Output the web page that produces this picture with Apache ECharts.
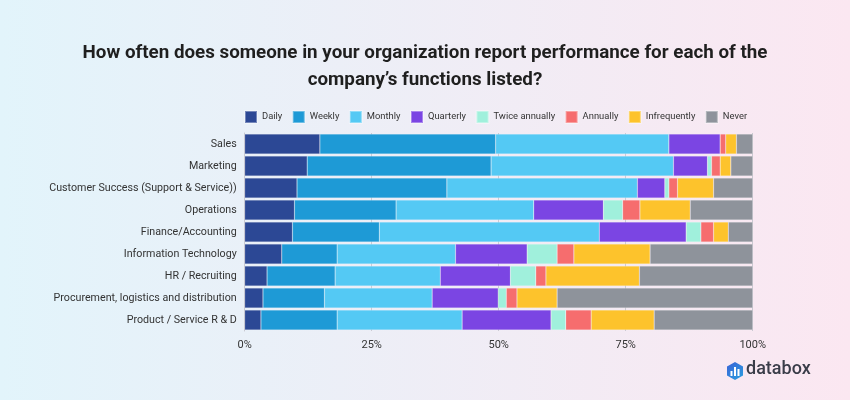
<!DOCTYPE html>
<html><head><meta charset="utf-8">
<script src="https://cdn.jsdelivr.net/npm/echarts@6/dist/echarts.min.js"></script>
<style>html,body{margin:0;padding:0;}#c{width:850px;height:400px;}</style>
</head><body><div id="c"></div>
<script>
const categories = ["Sales","Marketing","Customer Success (Support & Service))","Operations","Finance/Accounting","Information Technology","HR / Recruiting","Procurement, logistics and distribution","Product / Service R & D"];
const seriesNames = ["Daily","Weekly","Monthly","Quarterly","Twice annually","Annually","Infrequently","Never"];
const daily        = [14.8,12.3,10.3, 9.8, 9.4, 7.3, 4.4, 3.6, 3.2];
const weekly       = [34.6,36.2,29.5,20.0,17.1,10.9,13.4,12.1,15.0];
const monthly      = [34.1,35.9,37.5,27.1,43.3,23.3,20.7,21.2,24.6];
const quarterly    = [10.1, 6.7, 5.4,13.7,17.1,14.1,13.8,13.0,17.5];
const twiceAnnually= [ 0.0, 0.8, 0.8, 3.8, 2.9, 5.9, 5.0, 1.6, 2.9];
const annually     = [ 1.1, 1.7, 1.7, 3.4, 2.5, 3.3, 2.0, 2.1, 5.0];
const infrequently = [ 2.1, 2.1, 7.1, 9.9, 2.9,15.0,18.4, 7.9,12.4];
const never        = [ 3.2, 4.3, 7.7,12.3, 4.8,20.2,22.3,38.5,19.4];
const tickLabels = {0:"0%",25:"25%",50:"50%",75:"75%",100:"100%"};
const colors = ["#2c4895","#1e9ad6","#54c9f4","#7b45e3","#a0f0dc","#f66d6e","#fdc32c","#8e939b"];
const values = [daily,weekly,monthly,quarterly,twiceAnnually,annually,infrequently,never];

const chart = echarts.init(document.getElementById('c'), null, {renderer:'canvas'});
const font = 'Roboto, "Noto Sans", sans-serif';
chart.setOption({
  backgroundColor: new echarts.graphic.LinearGradient(0,0,1,0,[{offset:0,color:'#e2f4fb'},{offset:1,color:'#fbe7f1'}]),
  textStyle:{fontFamily:font},
  title:{
    text:"How often does someone in your organization report performance for each of the\ncompany’s functions listed?",
    left:'center', top:35,
    textStyle:{fontFamily:font,fontSize:18.8,fontWeight:'bold',color:'#1f1f1f',lineHeight:27}
  },
  legend:{
    data:seriesNames, left:239, top:105, itemWidth:12, itemHeight:12, itemGap:9.5,
    icon:'rect',
    textStyle:{fontFamily:font,fontSize:9.4,color:'#333'}
  },
  grid:{left:244.7, right:97.3, top:133, bottom:69, containLabel:false},
  xAxis:{
    type:'value', min:0, max:100, interval:25,
    axisLine:{show:false}, axisTick:{show:false},
    splitLine:{show:true,lineStyle:{color:'#c9c9d1',width:1}},
    axisLabel:{formatter:v=>tickLabels[v], color:'#333', fontSize:11, margin:9}
  },
  yAxis:{
    type:'category', data:categories, inverse:true,
    axisLine:{show:true,lineStyle:{color:'#c9c9d1'}}, axisTick:{show:false},
    axisLabel:{color:'#333', fontSize:10.7, margin:8}
  },
  series: seriesNames.map((n,i)=>({
    name:n, type:'bar', stack:'total', data:values[i], barWidth:20,
    itemStyle:{color:colors[i], borderColor:'rgba(255,255,255,0.35)', borderWidth:0.5},
    emphasis:{disabled:true}
  })),
  graphic:[
    {type:'polygon', shape:{points:[[735,362],[743,366.5],[743,375.5],[735,380],[727,375.5],[727,366.5]]},
     style:{fill:new echarts.graphic.LinearGradient(0,0,1,1,[{offset:0,color:'#3a62d6'},{offset:1,color:'#2aa0e0'}])}},
    {type:'rect', shape:{x:730.5,y:371,width:2,height:5}, style:{fill:'#fff'}},
    {type:'rect', shape:{x:734,y:367,width:2,height:9}, style:{fill:'#fff'}},
    {type:'rect', shape:{x:737.5,y:369,width:2,height:7}, style:{fill:'#fff'}},
    {type:'text', left:746, top:360, style:{text:'databox', font:'500 18px Roboto, sans-serif', fill:'#3a3d49'}}
  ]
});
</script></body></html>
